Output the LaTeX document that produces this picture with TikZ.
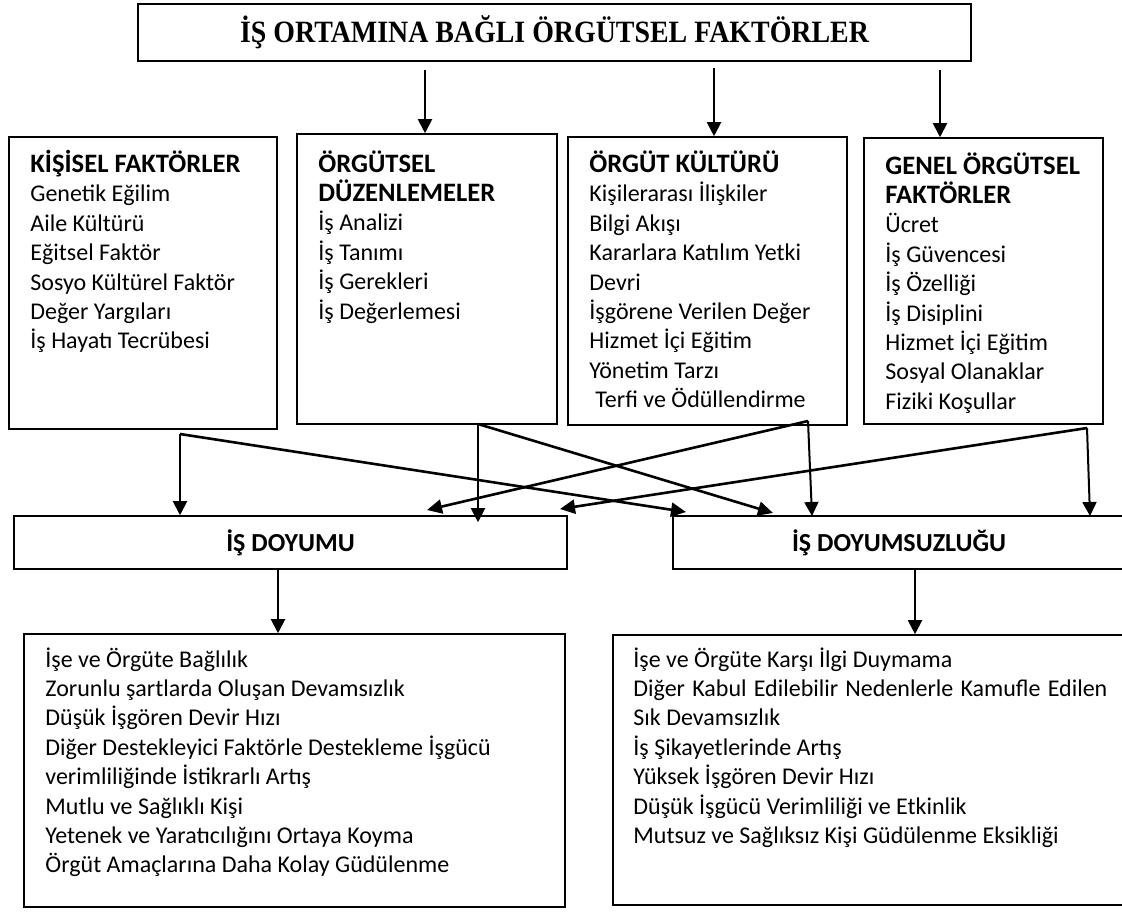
\documentclass[tikz,border=0pt]{standalone}
\usepackage{fontspec}
\setmainfont{Carlito}
\newfontfamily\serifbaslik{Liberation Serif}
\newcommand{\bas}[1]{{\bfseries\fontsize{13.3}{14.7}\selectfont #1}}
\usetikzlibrary{arrows.meta,positioning,fit}

\begin{document}
\begin{tikzpicture}[x=0.5pt,y=-0.5pt,
  kutu/.style={rectangle,draw=black,line width=0.8pt,inner sep=0pt},
  yazi/.style={inner sep=0pt,anchor=base west,font=\fontsize{12}{14.7}\selectfont},
  ok/.style={line width=1pt,-{Triangle[length=7pt,width=7pt]}},
  capraz/.style={line width=1.3pt,-{Triangle[length=7.5pt,width=7pt]}}]
\useasboundingbox (0,0) rectangle (1122,911);
\clip (0,0) rectangle (1122,911);

\node[kutu,line width=1.2pt,fit={(138,4) (971,61)},label={[font=\serifbaslik\bfseries\fontsize{15.5}{17}\selectfont]center:\scalebox{0.9}[1]{İŞ ORTAMINA BAĞLI ÖRGÜTSEL FAKTÖRLER}}](ust){};

\node[kutu,fit={(9,137) (277,429)}](kisisel){};
\node[kutu,fit={(297,134) (557,424)}](duzen){};
\node[kutu,fit={(568,137) (847,425)}](kultur){};
\node[kutu,fit={(864,138) (1103,424)}](genel){};

\node[yazi](kisiselT) at (30,172.5){\parbox[t]{130pt}{\bas{KİŞİSEL FAKTÖRLER}\\Genetik Eğilim\\Aile Kültürü\\Eğitsel Faktör\\Sosyo Kültürel Faktör\\Değer Yargıları\\İş Hayatı Tecrübesi}};
\node[yazi](duzenT) at (318,172){\parbox[t]{120pt}{\bas{ÖRGÜTSEL}\\\bas{DÜZENLEMELER}\\İş Analizi\\İş Tanımı\\İş Gerekleri\\İş Değerlemesi}};
\node[yazi](kulturT) at (589,172.5){\parbox[t]{130pt}{\bas{ÖRGÜT KÜLTÜRÜ}\\Kişilerarası İlişkiler\\Bilgi Akışı\\Kararlara Katılım Yetki\\Devri\\İşgörene Verilen Değer\\Hizmet İçi Eğitim\\Yönetim Tarzı\\\hspace*{3pt}Terfi ve Ödüllendirme}};
\node[yazi](genelT) at (885,174){\parbox[t]{110pt}{\bas{GENEL ÖRGÜTSEL}\\\bas{FAKTÖRLER}\\Ücret\\İş Güvencesi\\İş Özelliği\\İş Disiplini\\Hizmet İçi Eğitim\\Sosyal Olanaklar\\Fiziki Koşullar}};

\node[kutu,fit={(14,516) (567,569)},label={[font=\bfseries\fontsize{13}{16}\selectfont]center:İŞ DOYUMU}](doyum){};
\node[kutu,fit={(673,516) (1125,569)},label={[font=\bfseries\fontsize{13}{16}\selectfont]center:İŞ DOYUMSUZLUĞU}](doyumsuz){};

\node[kutu,fit={(24,634) (565,907)}](olumlu){};
\node[kutu,fit={(613,635) (1125,905)}](olumsuz){};

\node[yazi](olumluT) at (45,667){\parbox[t]{260pt}{İşe ve Örgüte Bağlılık\\Zorunlu şartlarda Oluşan Devamsızlık\\Düşük İşgören Devir Hızı\\Diğer Destekleyici Faktörle Destekleme İşgücü\\verimliliğinde İstikrarlı Artış\\Mutlu ve Sağlıklı Kişi\\Yetenek ve Yaratıcılığını Ortaya Koyma\\Örgüt Amaçlarına Daha Kolay Güdülenme}};
\node[yazi](olumsuzT) at (633,667){\parbox[t]{245pt}{İşe ve Örgüte Karşı İlgi Duymama\\\makebox[237pt][s]{Diğer Kabul Edilebilir Nedenlerle Kamufle Edilen}\\Sık Devamsızlık\\İş Şikayetlerinde Artış\\Yüksek İşgören Devir Hızı\\Düşük İşgücü Verimliliği ve Etkinlik\\Mutsuz ve Sağlıksız Kişi Güdülenme Eksikliği}};

\coordinate (u1) at (425,70);
\coordinate (u2) at (714,68);
\coordinate (u3) at (940,70);
\draw[ok] (u1) -- (u1 |- duzen.north);
\draw[ok] (u2) -- (u2 |- kultur.north);
\draw[ok] (u3) -- (u3 |- genel.north);

\coordinate (k1) at (180,434);
\coordinate (d1) at (478,424);
\coordinate (ku1) at (808,421);
\coordinate (g1) at (1087,428);
\coordinate (s1) at (686,512);
\coordinate (s2) at (773,513);
\coordinate (s3) at (812,516);
\coordinate (s4) at (1090,516);
\coordinate (y1) at (427,510);
\coordinate (y2) at (560,509);
\draw[ok] (k1) -- (k1 |- doyum.north);
\draw[capraz] (k1) -- (s1);
\draw[ok] (d1) -- ([yshift=-3.5pt]d1 |- doyum.north);
\draw[capraz] (d1) -- (s2);
\draw[ok] (ku1) -- (s3);
\draw[capraz] (ku1) -- (y1);
\draw[ok] (g1) -- (s4);
\draw[capraz] (g1) -- (y2);

\coordinate (a1) at (278,570);
\coordinate (a2) at (915,570);
\draw[ok] (a1) -- (a1 |- olumlu.north);
\draw[ok] (a2) -- (a2 |- olumsuz.north);
\end{tikzpicture}
\end{document}
